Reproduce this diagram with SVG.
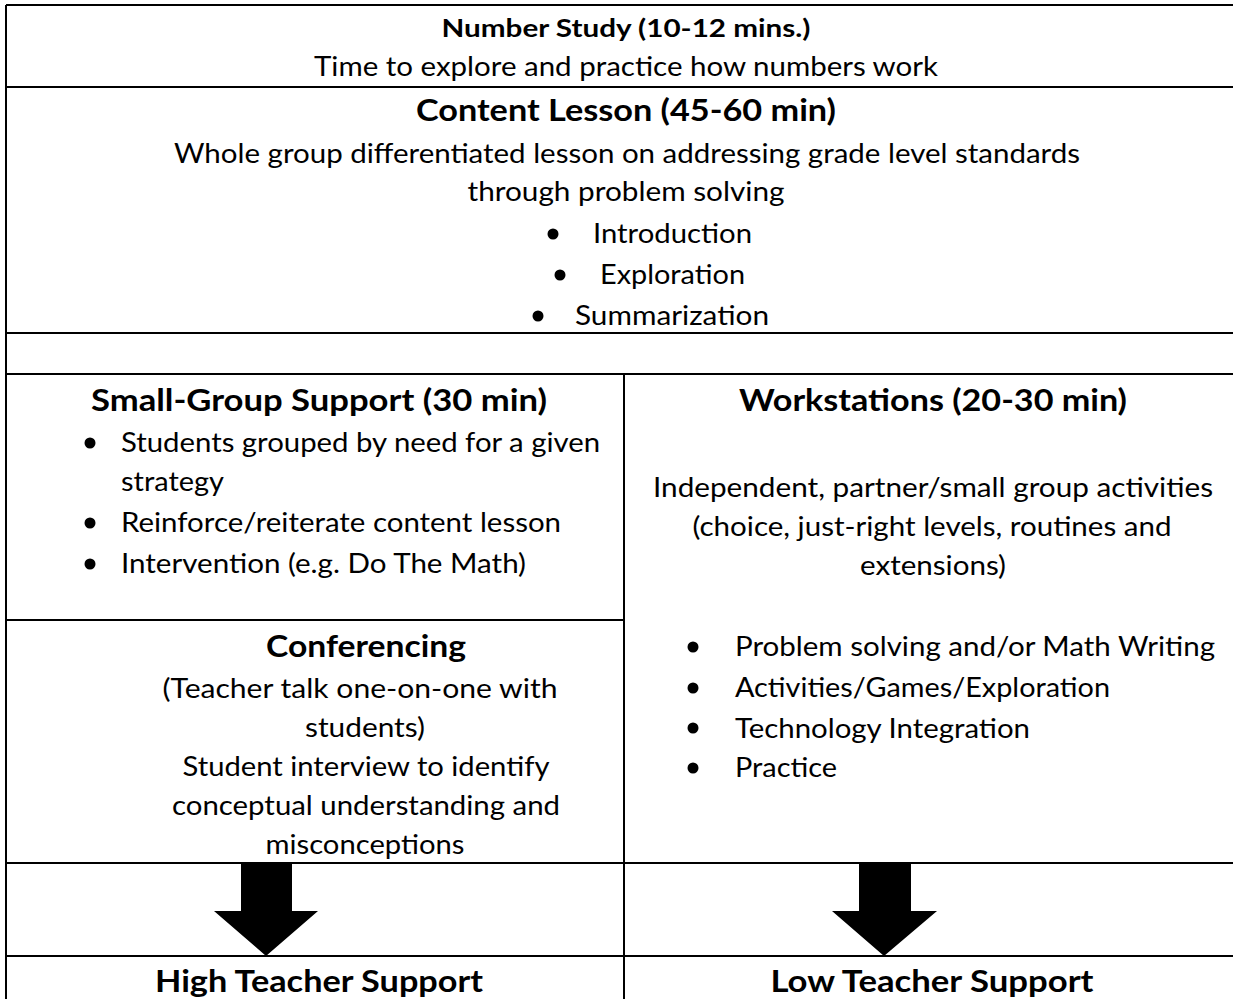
<svg xmlns="http://www.w3.org/2000/svg" width="1233" height="999" viewBox="0 0 1233 999">
  <style>
    .bg { fill: #ffffff; }
    .rule { stroke: #000000; stroke-width: 2; fill: none; }
    text { font-family: Lato, "Open Sans", "Liberation Sans", sans-serif; fill: #000000; }
    .body { font-size: 26px; }
    .head { font-size: 30px; font-weight: bold; }
    .head-sm { font-size: 25px; font-weight: bold; }
    .c { text-anchor: middle; }
    .dot { fill: #000000; }
    .block-arrow { fill: #000000; }
  </style>

  <rect class="bg" x="0" y="0" width="1233" height="999"/>

  <!-- table grid -->
  <g id="grid">
    <line class="rule" x1="6" y1="5" x2="1233" y2="5"/>
    <line class="rule" x1="6" y1="87" x2="1233" y2="87"/>
    <line class="rule" x1="6" y1="333" x2="1233" y2="333"/>
    <line class="rule" x1="6" y1="374" x2="1233" y2="374"/>
    <line class="rule" x1="6" y1="620" x2="624" y2="620"/>
    <line class="rule" x1="6" y1="863" x2="1233" y2="863"/>
    <line class="rule" x1="6" y1="956" x2="1233" y2="956"/>
    <line class="rule" x1="6" y1="5" x2="6" y2="999"/>
    <line class="rule" x1="624" y1="374" x2="624" y2="999"/>
  </g>

  <g id="number-study">
    <text class="head-sm c" x="626" y="37" textLength="369" lengthAdjust="spacingAndGlyphs">Number Study (10-12 mins.)</text>
    <text class="body c" x="626" y="76" textLength="624" lengthAdjust="spacingAndGlyphs">Time to explore and practice how numbers work</text>
  </g>

  <g id="content-lesson">
    <text class="head c" x="626" y="121" textLength="420" lengthAdjust="spacingAndGlyphs">Content Lesson (45-60 min)</text>
    <text class="body c" x="627" y="163" textLength="906" lengthAdjust="spacingAndGlyphs">Whole group differentiated lesson on addressing grade level standards</text>
    <text class="body c" x="626" y="201" textLength="317" lengthAdjust="spacingAndGlyphs">through problem solving</text>
    <circle class="dot" cx="553" cy="234" r="5.5"/>
    <text class="body" x="593" y="243" textLength="159" lengthAdjust="spacingAndGlyphs">Introduction</text>
    <circle class="dot" cx="560" cy="275" r="5.5"/>
    <text class="body" x="600" y="284" textLength="145" lengthAdjust="spacingAndGlyphs">Exploration</text>
    <circle class="dot" cx="538" cy="316" r="5.5"/>
    <text class="body" x="575" y="325" textLength="194" lengthAdjust="spacingAndGlyphs">Summarization</text>
  </g>

  <g id="small-group-support">
    <text class="head c" x="319" y="411" textLength="456" lengthAdjust="spacingAndGlyphs">Small-Group Support (30 min)</text>
    <circle class="dot" cx="90" cy="443" r="5.5"/>
    <text class="body" x="121" y="452" textLength="479" lengthAdjust="spacingAndGlyphs">Students grouped by need for a given</text>
    <text class="body" x="121" y="491" textLength="103" lengthAdjust="spacingAndGlyphs">strategy</text>
    <circle class="dot" cx="90" cy="523" r="5.5"/>
    <text class="body" x="121" y="532" textLength="440" lengthAdjust="spacingAndGlyphs">Reinforce/reiterate content lesson</text>
    <circle class="dot" cx="90" cy="564" r="5.5"/>
    <text class="body" x="121" y="573" textLength="405" lengthAdjust="spacingAndGlyphs">Intervention (e.g. Do The Math)</text>
  </g>

  <g id="conferencing">
    <text class="head c" x="366" y="657" textLength="200" lengthAdjust="spacingAndGlyphs">Conferencing</text>
    <text class="body c" x="360" y="698" textLength="395" lengthAdjust="spacingAndGlyphs">(Teacher talk one-on-one with</text>
    <text class="body c" x="365" y="737" textLength="120" lengthAdjust="spacingAndGlyphs">students)</text>
    <text class="body c" x="366" y="776" textLength="367" lengthAdjust="spacingAndGlyphs">Student interview to identify</text>
    <text class="body c" x="366" y="815" textLength="388" lengthAdjust="spacingAndGlyphs">conceptual understanding and</text>
    <text class="body c" x="365" y="854" textLength="199" lengthAdjust="spacingAndGlyphs">misconceptions</text>
  </g>

  <g id="workstations">
    <text class="head c" x="933" y="411" textLength="388" lengthAdjust="spacingAndGlyphs">Workstations (20-30 min)</text>
    <text class="body c" x="933" y="497" textLength="560" lengthAdjust="spacingAndGlyphs">Independent, partner/small group activities</text>
    <text class="body c" x="932" y="536" textLength="479" lengthAdjust="spacingAndGlyphs">(choice, just-right levels, routines and</text>
    <text class="body c" x="933" y="575" textLength="146" lengthAdjust="spacingAndGlyphs">extensions)</text>
    <circle class="dot" cx="693" cy="647" r="5.5"/>
    <text class="body" x="735" y="656" textLength="480" lengthAdjust="spacingAndGlyphs">Problem solving and/or Math Writing</text>
    <circle class="dot" cx="693" cy="688" r="5.5"/>
    <text class="body" x="735" y="697" textLength="375" lengthAdjust="spacingAndGlyphs">Activities/Games/Exploration</text>
    <circle class="dot" cx="693" cy="728" r="5.5"/>
    <text class="body" x="735" y="738" textLength="295" lengthAdjust="spacingAndGlyphs">Technology Integration</text>
    <circle class="dot" cx="693" cy="768" r="5.5"/>
    <text class="body" x="735" y="777" textLength="102" lengthAdjust="spacingAndGlyphs">Practice</text>
  </g>

  <g id="high-support">
    <text class="head c" x="319" y="992" textLength="328" lengthAdjust="spacingAndGlyphs">High Teacher Support</text>
  </g>

  <g id="low-support">
    <text class="head c" x="932" y="992" textLength="323" lengthAdjust="spacingAndGlyphs">Low Teacher Support</text>
  </g>

  <!-- downward block arrows -->
  <g id="connectors">
    <polygon class="block-arrow" points="241,863 292,863 292,911 318,911 266,956 214,911 241,911"/>
    <polygon class="block-arrow" points="859,863 911,863 911,911 937,911 884,956 832,911 859,911"/>
  </g>
</svg>
